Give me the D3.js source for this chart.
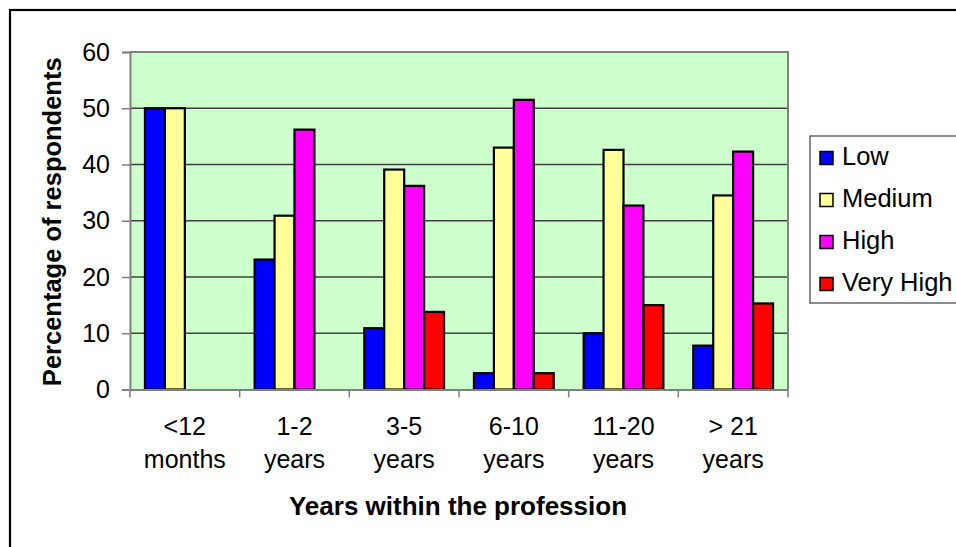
<!DOCTYPE html>
<html>
<head>
<meta charset="utf-8">
<script src="https://cdn.jsdelivr.net/npm/d3@7"></script>
<style>
  html, body { margin: 0; padding: 0; background: #fff; }
  svg { display: block; }
  text { font-family: Arial, "Liberation Sans", sans-serif; fill: #000; }
</style>
</head>
<body>
<svg id="chart" width="956" height="547"></svg>
<script>
// ---- Data ----
const categories = ["<12 months", "1-2 years", "3-5 years", "6-10 years", "11-20 years", "> 21 years"];
const labelLine1 = ["<12", "1-2", "3-5", "6-10", "11-20", "> 21"];
const labelLine2 = ["months", "years", "years", "years", "years", "years"];
const seriesNames = ["Low", "Medium", "High", "Very High"];
const seriesColors = ["#0000FF", "#FFFF99", "#FF00FF", "#FF0000"];
const low      = [50, 23.1, 10.9, 2.9, 10.0, 7.8];
const medium   = [50, 30.9, 39.1, 43.0, 42.6, 34.5];
const high     = [0, 46.2, 36.2, 51.5, 32.7, 42.3];
const veryHigh = [0, 0, 13.8, 2.9, 15.0, 15.3];
const yTicks = [0, 10, 20, 30, 40, 50, 60];
const yTitle = "Percentage of respondents";
const xTitle = "Years within the profession";

const seriesValues = [low, medium, high, veryHigh];

// ---- Layout ----
const svg = d3.select("#chart");
const plot = { left: 130, right: 788, top: 52, bottom: 389.5 };

// outer frame (extends beyond the visible area on right/bottom)
svg.append("rect")
  .attr("x", 10).attr("y", 10)
  .attr("width", 1000).attr("height", 600)
  .attr("fill", "none").attr("stroke", "#000").attr("stroke-width", 2.2);

const x = d3.scaleBand().domain(categories).range([plot.left, plot.right]).padding(0);
const xs = d3.scaleBand().domain(seriesNames).range([0, x.bandwidth()])
  .paddingInner(0).paddingOuter(0.75);
const y = d3.scaleLinear().domain([0, 60]).range([plot.bottom, plot.top]);

// plot background
svg.append("rect")
  .attr("x", plot.left).attr("y", plot.top)
  .attr("width", plot.right - plot.left).attr("height", plot.bottom - plot.top)
  .attr("fill", "#CCFFCC");

// gridlines
svg.append("g")
  .selectAll("line")
  .data(yTicks.filter(d => d > 0 && d < 60))
  .join("line")
  .attr("x1", plot.left).attr("x2", plot.right)
  .attr("y1", d => y(d)).attr("y2", d => y(d))
  .attr("stroke", "#404040").attr("stroke-width", 1.3);

// plot border top/right
svg.append("path")
  .attr("d", `M${plot.left},${plot.top}H${plot.right}V${plot.bottom}`)
  .attr("fill", "none").attr("stroke", "#808080").attr("stroke-width", 2);

// bars
const barData = [];
seriesValues.forEach((vals, si) => {
  vals.forEach((v, ci) => {
    if (v > 0) barData.push({ cat: categories[ci], s: seriesNames[si], v, color: seriesColors[si] });
  });
});
svg.append("g")
  .selectAll("rect")
  .data(barData)
  .join("rect")
  .attr("x", d => x(d.cat) + xs(d.s))
  .attr("y", d => y(d.v))
  .attr("width", xs.bandwidth())
  .attr("height", d => y(0) - y(d.v))
  .attr("fill", d => d.color)
  .attr("stroke", "#000").attr("stroke-width", 2.2);

// y axis
const yAxis = svg.append("g")
  .attr("transform", `translate(${plot.left},0)`)
  .call(d3.axisLeft(y).tickValues(yTicks).tickSize(8).tickPadding(12).tickFormat(d3.format("d")));
yAxis.select(".domain").attr("stroke", "#808080").attr("stroke-width", 2);
yAxis.selectAll(".tick line").attr("stroke", "#808080").attr("stroke-width", 1.5);
yAxis.selectAll(".tick text")
  .attr("font-size", 25).attr("font-family", "Arial, 'Liberation Sans', sans-serif")
  .attr("fill", "#000");

// x axis
const xAxis = svg.append("g")
  .attr("transform", `translate(0,${plot.bottom})`)
  .call(d3.axisBottom(x).tickSize(0).tickFormat(""));
xAxis.select(".domain").attr("stroke", "#808080").attr("stroke-width", 2);
// boundary ticks
const boundaries = categories.map(c => x(c)).concat([x(categories[categories.length - 1]) + x.bandwidth()]);
svg.append("g")
  .selectAll("line")
  .data(boundaries)
  .join("line")
  .attr("x1", d => d).attr("x2", d => d)
  .attr("y1", plot.bottom).attr("y2", plot.bottom + 8)
  .attr("stroke", "#808080").attr("stroke-width", 1.5);

// x tick labels (two lines)
const xl = svg.append("g");
xl.selectAll("text.l1")
  .data(categories)
  .join("text")
  .attr("class", "l1")
  .attr("x", d => x(d) + x.bandwidth() / 2)
  .attr("y", 435)
  .attr("text-anchor", "middle")
  .attr("font-size", 25)
  .text((d, i) => labelLine1[i]);
xl.selectAll("text.l2")
  .data(categories)
  .join("text")
  .attr("class", "l2")
  .attr("x", d => x(d) + x.bandwidth() / 2)
  .attr("y", 468)
  .attr("text-anchor", "middle")
  .attr("font-size", 25)
  .text((d, i) => labelLine2[i]);

// axis titles
svg.append("text")
  .attr("x", (plot.left + plot.right) / 2 - 1)
  .attr("y", 515)
  .attr("text-anchor", "middle")
  .attr("font-size", 26)
  .attr("font-weight", "bold")
  .text(xTitle);

svg.append("text")
  .attr("transform", `translate(61,${(plot.top + plot.bottom) / 2 + 1}) rotate(-90)`)
  .attr("text-anchor", "middle")
  .attr("font-size", 25.5)
  .attr("font-weight", "bold")
  .text(yTitle);

// legend
const legend = svg.append("g");
legend.append("rect")
  .attr("x", 810).attr("y", 136)
  .attr("width", 200).attr("height", 167)
  .attr("fill", "#fff").attr("stroke", "#505050").attr("stroke-width", 1.3);
const items = legend.selectAll("g.item")
  .data(seriesNames)
  .join("g")
  .attr("class", "item")
  .attr("transform", (d, i) => `translate(0,${i * 42})`);
items.append("rect")
  .attr("x", 820).attr("y", 151.5)
  .attr("width", 13).attr("height", 13)
  .attr("fill", (d, i) => seriesColors[i])
  .attr("stroke", "#000").attr("stroke-width", 1.5);
items.append("text")
  .attr("x", 842).attr("y", 165)
  .attr("font-size", 25.5)
  .text(d => d);
</script>
</body>
</html>
